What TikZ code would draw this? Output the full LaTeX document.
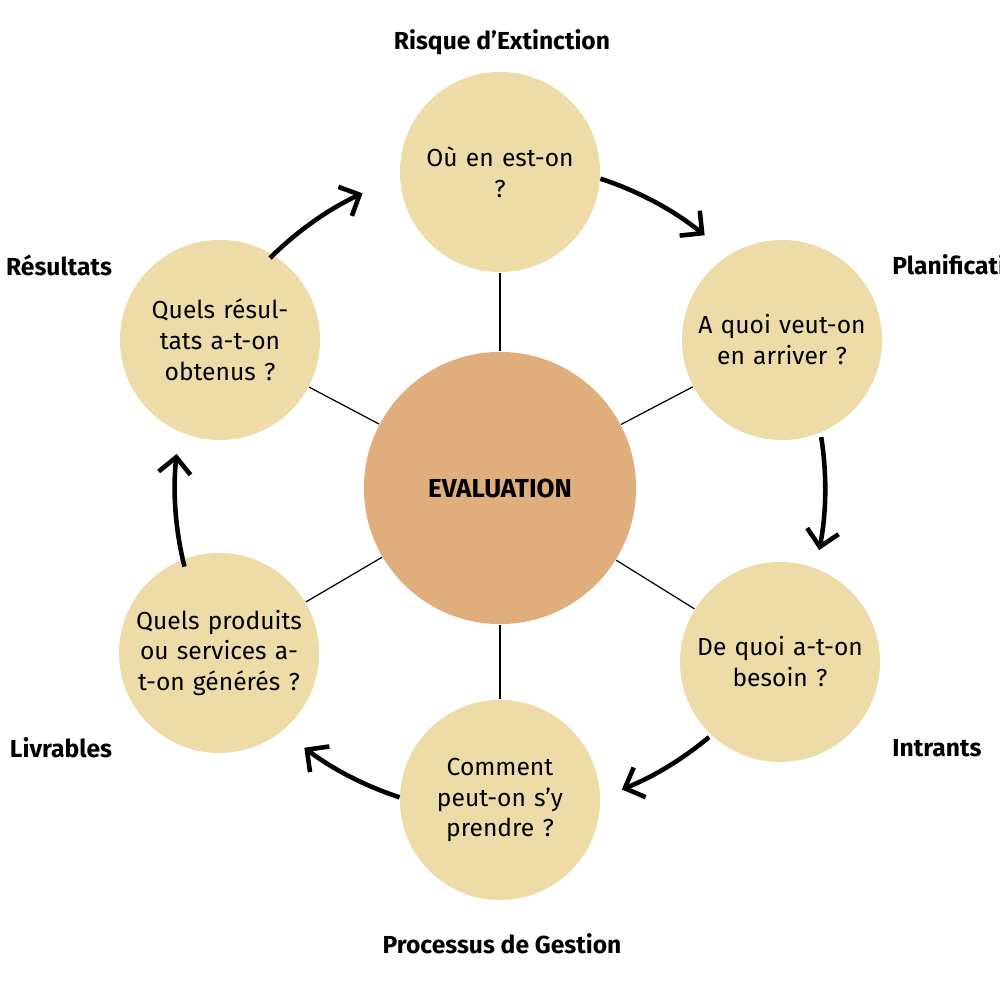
\documentclass[tikz,border=0pt]{standalone}
\usepackage{fontspec}
\setmainfont{Fira Sans}
\usetikzlibrary{arrows.meta,calc}
\definecolor{sable}{HTML}{EDDCA8}
\definecolor{ocre}{HTML}{E0AD7D}
\tikzset{
  etape/.style={circle,fill=sable,minimum size=2cm,inner sep=0pt,align=center,text width=1.75cm,font=\fontsize{7}{8.8}\selectfont},
  titre/.style={font=\bfseries\fontsize{7}{9}\selectfont},
  cycle/.style={line width=1.3pt,-{Straight Barb[length=1.6mm,width=3.2mm]}},
  rayon/.style={line width=0.35pt}
}
\begin{document}
\begin{tikzpicture}[x=0.01cm,y=0.01cm] % cycle de gestion
  \clip (0,0) rectangle (1000,1000);
  \useasboundingbox (0,0) rectangle (1000,1000);
  % cercle central
  \node[circle,fill=ocre,minimum size=2.72cm,font=\bfseries\fontsize{7.4}{9}\selectfont] (ev) at (500,512) {EVALUATION};
  % etapes
  \node[etape] (risque) at (500,828) {Où en est-on\\?};
  \node[etape] (plan) at (782,660) {A quoi veut-on en arriver ?};
  \node[etape] (intr) at (780,338) {De quoi a-t-on besoin ?};
  \node[etape] (proc) at (500,200) {Comment peut-on s'y prendre ?};
  \node[etape] (livr) at (219,347) {Quels produits ou services a-t-on générés ?};
  \node[etape] (res) at (220,660) {Quels résultats a-t-on obtenus ?};
  % rayons
  \foreach \n in {risque,plan,intr,proc,livr,res}
    \draw[rayon] (ev) -- (\n);
  % fleches du cycle
  \draw[cycle] ($(ev.center)+(72:3.25cm)$) arc[start angle=72,end angle=51,radius=3.25cm];
  \draw[cycle] ($(ev.center)+(9:3.25cm)$) arc[start angle=9,end angle=-11,radius=3.25cm];
  \draw[cycle] ($(ev.center)+(-50:3.25cm)$) arc[start angle=-50,end angle=-68,radius=3.25cm];
  \draw[cycle] ($(ev.center)+(-108:3.25cm)$) arc[start angle=-108,end angle=-127,radius=3.25cm];
  \draw[cycle] ($(ev.center)+(194:3.25cm)$) arc[start angle=194,end angle=174,radius=3.25cm];
  \draw[cycle] ($(ev.center)+(135:3.25cm)$) arc[start angle=135,end angle=115,radius=3.25cm];
  % titres
  \node[titre] (t1) at (502,958) {Risque d'Extinction};
  \node[titre,anchor=west] (t2) at (880,735) {Planification};
  \node[titre,anchor=west] (t3) at (880,252) {Intrants};
  \node[titre] (t4) at (502,56) {Processus de Gestion};
  \node[titre] (t5) at (61,252) {Livrables};
  \node[titre] (t6) at (59,735) {Résultats};
\end{tikzpicture}
\end{document}
